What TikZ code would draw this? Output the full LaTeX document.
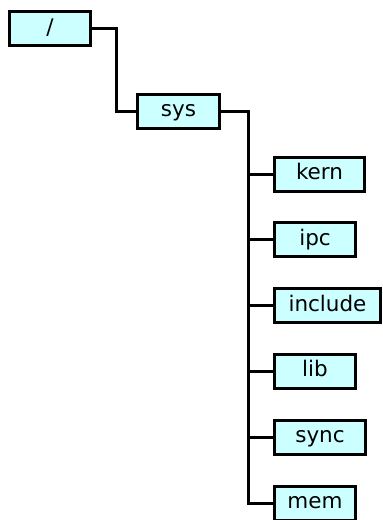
\documentclass[tikz,border=0pt]{standalone}
\usepackage{fontspec}
\setmainfont{DejaVu Sans}
\usetikzlibrary{positioning}
\definecolor{dirfill}{HTML}{CCFFFF}

\begin{document}
\begin{tikzpicture}[x=1pt,y=-1pt,
    dir/.style={draw,fill=dirfill,line width=3pt,minimum height=34pt,minimum width=81pt,
                inner sep=0pt,text height=16pt,text depth=5pt,
                font=\fontsize{21.5}{24}\selectfont},
    link/.style={line width=3pt}
  ]
  \useasboundingbox (0,0) rectangle (383,520);

  % top levels
  \node[dir] (root) at (50,28.5) {/};
  \node[dir,minimum width=82pt] (sys) at (178.5,111) {sys};
  \draw[link] (root.east) -- ++(24,0) |- (sys.west);

  % entries below sys
  \node[dir,anchor=west,minimum width=90pt] (kern) at (273,174) {kern};
  \node[dir,below=28.8pt of kern.south west,anchor=north west] (ipc) {ipc};
  \node[dir,below=28.8pt of ipc.south west,anchor=north west,minimum width=106pt] (include) {include};
  \node[dir,below=28.8pt of include.south west,anchor=north west] (lib) {lib};
  \node[dir,below=28.8pt of lib.south west,anchor=north west,minimum width=91pt] (sync) {sync};
  \node[dir,below=28.8pt of sync.south west,anchor=north west] (mem) {mem};

  \draw[link] (sys.east) -- ++(27,0) coordinate (trunk) |- (mem.west);
  \foreach \d in {kern,ipc,include,lib,sync}
    \draw[link] (trunk |- \d.west) -- (\d.west);
\end{tikzpicture}
\end{document}
